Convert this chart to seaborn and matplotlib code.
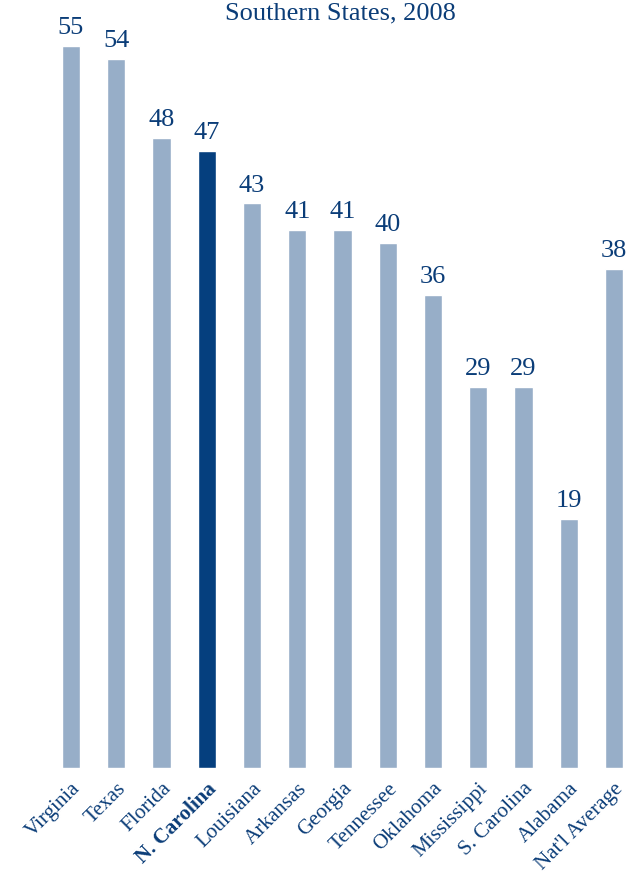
import matplotlib
matplotlib.use("Agg")
import matplotlib.pyplot as plt
import seaborn as sns

states = ["Virginia", "Texas", "Florida", "N. Carolina", "Louisiana", "Arkansas",
          "Georgia", "Tennessee", "Oklahoma", "Mississippi", "S. Carolina",
          "Alabama", "Nat'l Average"]
values = [55, 54, 48, 47, 43, 41, 41, 40, 36, 29, 29, 19, 38]
highlight = "N. Carolina"
title = "Southern States, 2008"

LIGHT = "#97aec8"
DARK = "#053f7e"
TEXT = "#0b3d78"

sns.set_theme(style="white")
plt.rcParams["font.family"] = ["Liberation Serif", "DejaVu Serif"]

fig = plt.figure(figsize=(6.33, 8.77), dpi=100)
ax = fig.add_axes([0, (877 - 768) / 877, 1, 768 / 877])

palette = {s: (DARK if s == highlight else LIGHT) for s in states}
sns.barplot(x=states, y=values, hue=states, palette=palette, legend=False,
            width=0.4, saturation=1, ax=ax)

for cont in ax.containers:
    ax.bar_label(cont, fmt="%d", padding=5, fontsize=19, color=TEXT)

ax.set_xlim(-1.569, 12.42)
ax.set_ylim(0, 58.5)
ax.set_yticks([])
ax.set_ylabel("")
for sp in ax.spines.values():
    sp.set_visible(False)

ax.set_xticks(range(len(states)))
ax.set_xticklabels(states, rotation=45, ha="right", va="top",
                   rotation_mode="anchor", fontsize=15.2, color=TEXT)
ax.tick_params(axis="x", length=0, pad=8)
for lbl in ax.get_xticklabels():
    if lbl.get_text() == highlight:
        lbl.set_fontweight("bold")

fig.text(340 / 633, 1 - 19 / 877, title, ha="center", va="baseline",
         fontsize=19, color=TEXT)

fig.savefig("out.png", dpi=100)
